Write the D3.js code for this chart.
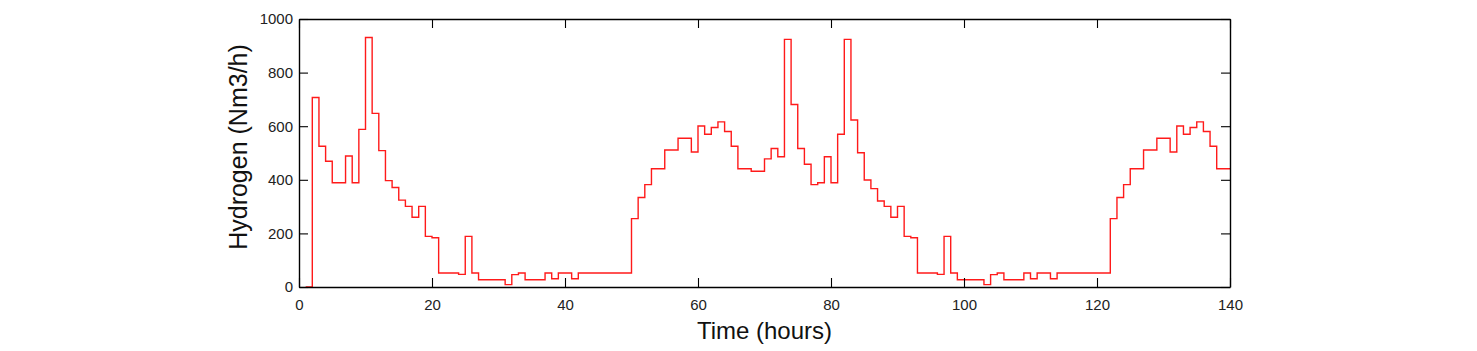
<!DOCTYPE html>
<html>
<head>
    <style>
        body { margin: 0; background: #fff; }
        svg { font-family: "Liberation Sans", Arial, Helvetica, sans-serif; }
        .tick text { font-size: 15px; fill: #222; }
        .axis path, .axis line { stroke: #000; }
    </style>
</head>
<body>
<script src="https://d3js.org/d3.v7.min.js"></script>
<svg width="1477" height="351"></svg>
<script>
    // hourly steps: each value holds from its start hour until the next start
    var stepStart = [1, 2, 3, 4, 5, 7, 8, 9, 10, 11, 12, 13, 14, 15, 16, 17, 18, 19, 20, 21,
        24, 25, 26, 27, 31, 32, 33, 34, 37, 38, 39, 41, 42, 50, 51, 52, 53, 55, 57, 59,
        60, 61, 62, 63, 64, 65, 66, 68, 70, 71, 72, 73, 74, 75, 76, 77, 78, 79, 80, 81,
        82, 83, 84, 85, 86, 87, 88, 89, 90, 91, 92, 93, 96, 97, 98, 99, 103, 104, 105, 106,
        109, 110, 111, 113, 114, 122, 123, 124, 125, 127, 129, 131, 132, 133, 134, 135, 136, 137, 138, 140];
    var hydrogen = [0, 707, 525, 469, 389, 489, 389, 588, 931, 648, 509, 397, 371, 324, 301, 260, 301, 189, 184, 52,
        47, 189, 52, 27, 9, 46, 52, 27, 52, 31, 52, 31, 52, 255, 334, 382, 441, 511, 555, 504,
        601, 570, 595, 616, 580, 525, 441, 432, 478, 517, 486, 924, 681, 517, 458, 382, 389, 486, 389, 570,
        924, 623, 501, 399, 367, 321, 301, 260, 301, 189, 184, 52, 47, 189, 52, 27, 9, 46, 52, 27,
        52, 31, 52, 31, 52, 255, 334, 382, 441, 511, 555, 504, 601, 570, 595, 616, 580, 525, 441, 441];

    var xTicks = [0, 20, 40, 60, 80, 100, 120, 140];
    var yTicks = [0, 200, 400, 600, 800, 1000];

    var margin = {top: 19, right: 247, bottom: 64, left: 299};
    var svg = d3.select("svg");
    var width = +svg.attr("width") - margin.left - margin.right;
    var height = +svg.attr("height") - margin.top - margin.bottom;

    var x = d3.scaleLinear().domain([0, 140]).range([0, width]);
    var y = d3.scaleLinear().domain([0, 1000]).range([height, 0]);

    var g = svg.append("g")
        .attr("transform", "translate(" + margin.left + "," + margin.top + ")");

    var points = stepStart.map(function(t, i) { return [t, hydrogen[i]]; });

    var line = d3.line()
        .x(function(d) { return x(d[0]); })
        .y(function(d) { return y(d[1]); })
        .curve(d3.curveStepAfter);

    g.append("path")
        .datum(points)
        .attr("fill", "none")
        .attr("stroke", "#ff1a1a")
        .attr("stroke-width", 1.4)
        .attr("d", line);

    // axes, ticks pointing inward on all four sides
    var tl = 9;
    g.append("g").attr("class", "axis")
        .attr("transform", "translate(0," + height + ")")
        .call(d3.axisBottom(x).tickValues(xTicks).tickSize(-tl).tickPadding(12).tickSizeOuter(0));
    g.append("g").attr("class", "axis")
        .call(d3.axisTop(x).tickValues(xTicks).tickSize(-tl).tickFormat("").tickSizeOuter(0));
    g.append("g").attr("class", "axis")
        .call(d3.axisLeft(y).tickValues(yTicks).tickSize(-tl).tickPadding(6)
            .tickFormat(d3.format("d")).tickSizeOuter(0));
    g.append("g").attr("class", "axis")
        .attr("transform", "translate(" + width + ",0)")
        .call(d3.axisRight(y).tickValues(yTicks).tickSize(-tl).tickFormat("").tickSizeOuter(0));

    g.selectAll(".axis path").attr("stroke-width", 1.4);
    g.selectAll(".axis line").attr("stroke-width", 1.1);

    g.append("text")
        .attr("x", width / 2)
        .attr("y", height + 52)
        .attr("text-anchor", "middle")
        .style("font-size", "24px")
        .attr("fill", "#111")
        .text("Time (hours)");

    g.append("text")
        .attr("transform", "translate(-52," + (height / 2 - 6) + ") rotate(-90)")
        .attr("text-anchor", "middle")
        .style("font-size", "25px")
        .attr("fill", "#111")
        .text("Hydrogen (Nm3/h)");
</script>
</body>
</html>
